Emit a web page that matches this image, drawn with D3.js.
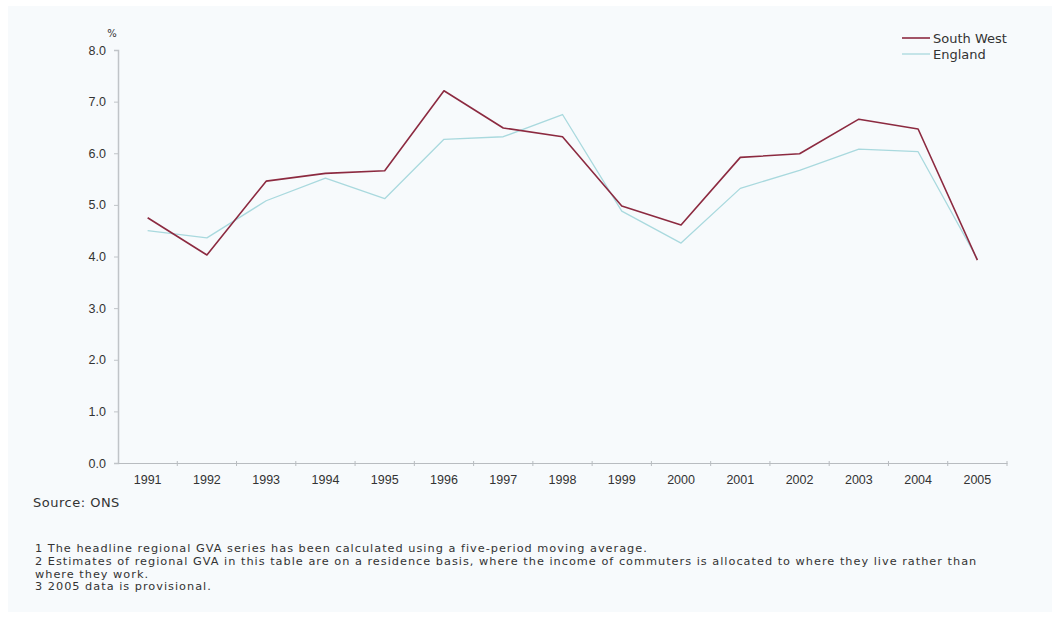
<!DOCTYPE html>
<html>
<head>
<meta charset="utf-8">
<script src="https://cdn.jsdelivr.net/npm/d3@7"></script>
<style>
  body { margin: 0; background: #fff; }
  svg { display: block; font-family: "DejaVu Sans", sans-serif; }
</style>
</head>
<body>
<svg id="chart" width="1059" height="621"></svg>
<script>
// Data (% growth)
const years = ["1991", "1992", "1993", "1994", "1995", "1996", "1997", "1998",
  "1999", "2000", "2001", "2002", "2003", "2004", "2005"];
const southWest = [4.75, 4.03, 5.46, 5.61, 5.66, 7.21, 6.49, 6.32, 4.98, 4.61, 5.92, 5.99, 6.66, 6.47, 3.93];
const england = [4.50, 4.36, 5.08, 5.52, 5.12, 6.27, 6.32, 6.75, 4.88, 4.26, 5.32, 5.67, 6.08, 6.03, 3.95];
const yTicks = [0, 1, 2, 3, 4, 5, 6, 7, 8];
const footnotes = [
  "1 The headline regional GVA series has been calculated using a five-period moving average.",
  "2 Estimates of regional GVA in this table are on a residence basis, where the income of commuters is allocated to where they live rather than",
  "where they work.",
  "3 2005 data is provisional."
];

const series = [
  { name: "South West", values: southWest, color: "#8c2a40", width: 1.6 },
  { name: "England", values: england, color: "#a9d9de", width: 1.3 },
];

const svg = d3.select("#chart");
const textColor = "#333";

// light panel background with a thin white margin
svg.append("rect")
  .attr("x", 8).attr("y", 6)
  .attr("width", 1044).attr("height", 606)
  .attr("fill", "#f7fafc");

const margin = { left: 118, right: 52, top: 50, bottom: 158 };
const width = 1059 - margin.left - margin.right;
const height = 621 - margin.top - margin.bottom;

const g = svg.append("g").attr("transform", `translate(${margin.left},${margin.top})`);

const x = d3.scaleBand().domain(years).range([0, width]);
const y = d3.scaleLinear().domain([0, 8]).range([height, 0]);

// y axis
const yAxis = g.append("g")
  .call(d3.axisLeft(y).tickValues(yTicks).tickFormat(d3.format(".1f")).tickSize(4).tickPadding(8));
yAxis.select(".domain").attr("stroke", "#c0c4c8").attr("stroke-width", 1.5);
yAxis.selectAll(".tick line").attr("stroke", "#c0c4c8");
yAxis.selectAll("text").attr("fill", textColor).attr("font-size", 12.5);

// x axis with ticks on band boundaries
const xAxis = g.append("g").attr("transform", `translate(0,${height})`)
  .call(d3.axisBottom(x).tickSize(0).tickPadding(12));
xAxis.select(".domain").attr("stroke", "#b8bcc0");
xAxis.selectAll("text").attr("fill", textColor).attr("font-size", 12.5);
xAxis.selectAll(".bound")
  .data(years)
  .join("line")
  .attr("class", "bound")
  .attr("x1", d => x(d) + x.bandwidth())
  .attr("x2", d => x(d) + x.bandwidth())
  .attr("y1", -2).attr("y2", 3)
  .attr("stroke", "#b8bcc0");

// "%" unit label
svg.append("text")
  .attr("x", 112).attr("y", 37)
  .attr("text-anchor", "middle")
  .attr("font-size", 10)
  .attr("fill", textColor)
  .text("%");

// lines
const line = d3.line()
  .x((d, i) => x(years[i]) + x.bandwidth() / 2)
  .y(d => y(d));

// England drawn first so South West sits on top
[...series].reverse().forEach(s => {
  g.append("path")
    .datum(s.values)
    .attr("fill", "none")
    .attr("stroke", s.color)
    .attr("stroke-width", s.width)
    .attr("stroke-linejoin", "round")
    .attr("d", line);
});

// legend
const legend = svg.append("g").attr("transform", "translate(902,38)");
series.forEach((s, i) => {
  const row = legend.append("g").attr("transform", `translate(0,${i * 16})`);
  row.append("line")
    .attr("x1", 0).attr("x2", 28)
    .attr("stroke", s.color).attr("stroke-width", s.width);
  row.append("text")
    .attr("x", 31).attr("dy", "0.35em")
    .attr("font-size", 13)
    .attr("fill", textColor)
    .text(s.name);
});

// source + footnotes
svg.append("text")
  .attr("x", 33).attr("y", 507)
  .attr("font-size", 13)
  .attr("letter-spacing", 0.5)
  .attr("fill", textColor)
  .text("Source: ONS");

svg.selectAll(".note")
  .data(footnotes)
  .join("text")
  .attr("class", "note")
  .attr("x", 35)
  .attr("y", (d, i) => 552 + i * 12.8)
  .attr("font-size", 11.3)
  .attr("letter-spacing", 1.0)
  .attr("fill", textColor)
  .text(d => d);
</script>
</body>
</html>
